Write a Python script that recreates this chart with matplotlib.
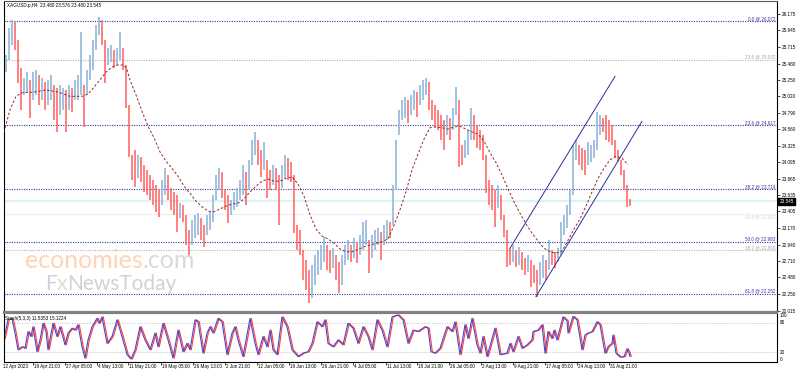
"""
XAGUSD H4 chart (MT4 style) with fibonacci levels, channel and stochastic.
"""

import numpy as np
import matplotlib as mpl
from matplotlib import pyplot as plt
from matplotlib.transforms import ScaledTranslation, blended_transform_factory

mpl.rcParams['font.family'] = ['Liberation Sans', 'DejaVu Sans']

# ---- data (one entry every third H4 bar) ----
highs = [25.60, 25.98, 26.09, 26.06, 25.81, 25.42, 25.28, 25.36, 25.25, 25.36,
         25.39, 25.32, 25.28, 25.22, 25.25, 25.32, 25.18, 25.14, 25.18, 25.14,
         25.11, 25.18, 25.14, 25.25, 25.32, 25.92, 25.18, 25.39, 25.60, 25.81,
         26.02, 26.13, 26.09, 25.81, 25.70, 25.74, 25.67, 25.70, 25.92, 25.70,
         25.46, 24.90, 24.20, 24.27, 24.20, 24.17, 24.06, 23.99, 23.92, 23.85,
         23.78, 23.71, 23.85, 24.01, 23.92, 23.73, 23.68, 23.64, 23.52, 23.50,
         23.36, 23.15, 23.29, 23.36, 23.38, 23.31, 23.21, 23.36, 23.40, 23.64,
         23.92, 24.01, 23.96, 23.71, 23.64, 23.57, 23.68, 23.73, 23.85, 24.06,
         23.96, 24.13, 24.41, 24.52, 24.41, 24.27, 24.38, 24.13, 23.99, 24.06,
         24.01, 23.92, 24.06, 24.20, 24.15, 24.10, 23.92, 23.21, 23.15, 22.86,
         22.72, 22.58, 22.65, 22.80, 22.86, 22.94, 23.05, 22.94, 22.86, 22.89,
         22.80, 22.70, 22.80, 22.94, 23.01, 22.94, 23.03, 22.98, 23.08, 23.26,
         23.29, 23.01, 23.08, 23.15, 23.17, 23.12, 23.21, 23.29, 23.26, 23.78,
         24.41, 24.83, 24.97, 25.01, 24.97, 25.04, 25.11, 25.08, 25.18, 25.25,
         25.28, 25.22, 24.97, 24.90, 24.83, 24.76, 24.69, 24.76, 24.72, 24.86,
         25.15, 24.97, 24.34, 24.41, 24.55, 24.86, 24.76, 24.62, 24.55, 24.48,
         24.20, 23.85, 23.78, 23.71, 23.78, 23.64, 23.36, 23.15, 22.89, 22.94,
         22.86, 22.91, 22.84, 22.75, 22.80, 22.72, 22.65, 22.58, 22.70, 22.80,
         22.72, 23.01, 22.86, 22.84, 22.89, 23.26, 23.36, 23.50, 23.71, 24.34,
         24.41, 24.34, 24.29, 24.27, 24.38, 24.34, 24.41, 24.80, 24.76, 24.72,
         24.76, 24.69, 24.62, 24.41, 24.27, 24.13, 23.99, 23.78, 23.58]

lows = [25.36, 25.53, 25.74, 25.67, 25.21, 24.83, 25.04, 25.08, 24.72, 24.97,
        25.04, 24.90, 24.97, 24.83, 24.90, 24.97, 24.69, 24.52, 24.76, 24.83,
        24.52, 24.83, 24.80, 24.97, 24.97, 25.04, 24.59, 25.04, 25.25, 25.39,
        25.67, 25.88, 25.74, 25.21, 25.46, 25.50, 25.42, 25.46, 25.53, 25.39,
        24.86, 24.17, 23.85, 23.75, 23.87, 23.82, 23.68, 23.64, 23.57, 23.50,
        23.40, 23.33, 23.50, 23.64, 23.57, 23.43, 23.36, 23.12, 23.31, 23.26,
        22.94, 22.80, 22.94, 23.03, 23.08, 23.01, 22.91, 23.08, 23.15, 23.26,
        23.57, 23.71, 23.59, 23.43, 23.24, 23.36, 23.43, 23.47, 23.57, 23.64,
        23.50, 23.71, 24.06, 24.20, 24.06, 23.89, 23.99, 23.59, 23.71, 23.78,
        23.71, 23.21, 23.73, 23.87, 23.85, 23.82, 23.10, 22.86, 22.80, 22.44,
        22.30, 22.12, 22.19, 22.37, 22.51, 22.58, 22.70, 22.58, 22.54, 22.61,
        22.44, 22.26, 22.37, 22.65, 22.72, 22.70, 22.75, 22.68, 22.80, 22.86,
        22.94, 22.54, 22.75, 22.86, 22.94, 22.72, 22.94, 23.01, 23.03, 23.21,
        23.71, 24.48, 24.69, 24.72, 24.65, 24.76, 24.83, 24.73, 24.90, 24.97,
        25.04, 24.83, 24.69, 24.59, 24.55, 24.41, 24.27, 24.48, 24.41, 24.55,
        24.76, 24.03, 24.06, 24.15, 24.20, 24.41, 24.41, 24.29, 24.27, 24.13,
        23.66, 23.50, 23.43, 23.19, 23.45, 23.29, 23.05, 22.63, 22.65, 22.70,
        22.63, 22.65, 22.58, 22.51, 22.56, 22.35, 22.40, 22.21, 22.37, 22.47,
        22.44, 22.58, 22.65, 22.61, 22.70, 22.80, 23.08, 23.17, 23.36, 23.64,
        24.13, 24.06, 23.99, 23.92, 24.06, 24.10, 24.15, 24.27, 24.48, 24.52,
        24.41, 24.38, 24.34, 24.15, 24.10, 23.92, 23.71, 23.47, 23.48]

# moving average (bar number, price)
ma_bar = [0, 6, 12, 18, 30, 42, 54, 66, 78, 84, 90, 96, 102, 108, 114, 120, 123, 126,
          132, 138, 144, 150, 156, 162, 168, 174, 180, 186, 192, 198, 204, 210, 216,
          222, 228, 234, 240, 246, 252, 258, 264, 270, 276, 282, 288, 294, 300, 306,
          312, 318, 324, 330, 336, 342, 348, 354, 360, 366, 372, 378, 384, 390, 396,
          402, 408, 414, 420, 426, 432, 438, 444, 450, 456, 462, 468, 474, 480, 486,
          492, 498, 504, 510, 516, 522, 528, 534, 540, 546, 552, 558, 564, 570, 576,
          582, 588, 594, 600, 606, 612, 618, 624]
ma_val = [24.52, 24.83, 25.02, 25.07, 25.08, 25.11, 25.08, 25.02, 25.02, 25.05,
          25.15, 25.25, 25.36, 25.43, 25.46, 25.46, 25.39, 25.25, 25.04, 24.81,
          24.60, 24.44, 24.24, 24.11, 24.01, 23.90, 23.76, 23.66, 23.55, 23.47,
          23.41, 23.40, 23.44, 23.48, 23.51, 23.52, 23.58, 23.68, 23.76, 23.83,
          23.86, 23.83, 23.83, 23.87, 23.89, 23.79, 23.62, 23.36, 23.16, 23.06,
          23.02, 22.96, 22.88, 22.84, 22.84, 22.87, 22.91, 22.93, 22.96, 22.98,
          23.02, 23.21, 23.43, 23.68, 23.99, 24.21, 24.42, 24.58, 24.59, 24.58,
          24.56, 24.59, 24.60, 24.56, 24.52, 24.49, 24.39, 24.23, 24.09, 23.92,
          23.72, 23.54, 23.38, 23.23, 23.10, 22.99, 22.89, 22.84, 22.82, 22.85,
          23.00, 23.16, 23.30, 23.48, 23.68, 23.87, 24.01, 24.13, 24.18, 24.15,
          24.06]

# stochastic %K turning points (bar number, value)
stoch_bar = [0, 4, 8, 11, 14, 18, 21, 24, 27, 29, 33, 36, 39, 42, 44, 49, 53, 56, 61,
             64, 68, 71, 74, 78, 81, 84, 88, 93, 95, 98, 103, 108, 113, 118, 123, 127,
             131, 136, 141, 146, 151, 154, 159, 164, 169, 174, 179, 183, 186, 191, 194,
             199, 203, 206, 209, 214, 218, 223, 228, 231, 234, 239, 246, 251, 254, 259,
             263, 266, 269, 273, 278, 283, 288, 294, 299, 304, 308, 313, 318, 321, 324,
             329, 334, 339, 344, 349, 354, 359, 364, 368, 373, 378, 383, 388, 394, 399,
             404, 409, 414, 421, 424, 427, 431, 436, 443, 448, 451, 456, 461, 464, 468,
             473, 476, 479, 483, 491, 496, 503, 506, 509, 514, 518, 523, 528, 529, 534,
             538, 541, 544, 548, 550, 553, 559, 563, 564, 569, 573, 578, 581, 584, 588,
             593, 596, 601, 604, 608, 609, 612, 616, 620, 623, 625, 626]
stoch_k = [48, 86, 89, 59, 25, 31, 28, 62, 52, 72, 21, 45, 79, 62, 25, 79, 52, 72, 35,
           59, 69, 65, 76, 31, 8, 45, 72, 89, 79, 92, 38, 52, 86, 52, 15, 6,
           25, 72, 45, 25, 59, 31, 79, 45, 8, 65, 21, 38, 25, 86, 82,
           18, 59, 72, 59, 89, 82, 15, 59, 72, 45, 11, 89, 38, 15, 52,
           31, 65, 25, 15, 92, 72, 25, 11, 18, 21, 38, 82, 72, 86, 38,
           31, 45, 35, 79, 69, 38, 72, 52, 25, 86, 65, 31, 92, 96, 86,
           38, 65, 62, 72, 69, 21, 18, 28, 72, 62, 82, 15, 76, 48, 89,
           35, 18, 52, 11, 69, 15, 18, 38, 21, 52, 28, 35, 45, 62, 65,
           76, 18, 62, 48, 65, 45, 92, 84, 59, 93, 86, 25, 55, 59, 62,
           82, 76, 18, 31, 38, 55, 18, 10, 11, 27, 18, 11.5]

# x axis dates (bar number where each label starts)
date_labels = ['12 Apr 2023', '19 Apr 21:00', '27 Apr 05:00', '4 May 13:00',
               '11 May 21:00', '19 May 05:00', '26 May 13:00', '2 Jun 21:00',
               '12 Jun 05:00', '19 Jun 13:00', '26 Jun 21:00', '4 Jul 05:00',
               '11 Jul 13:00', '18 Jul 21:00', '26 Jul 05:00', '2 Aug 13:00',
               '9 Aug 21:00', '17 Aug 05:00', '24 Aug 13:00', '31 Aug 21:00']
date_pos = [-2.3, 29.3, 61, 92.7, 124.3, 157, 188.7, 221.3, 252.7, 285, 316.7,
            348.7, 381.7, 413.3, 445, 477, 508.7, 541, 573.3, 605.3]

price_ticks = [26.175, 25.945, 25.715, 25.480, 25.250, 25.020, 24.790, 24.560,
               24.325, 24.095, 23.865, 23.635, 23.405, 23.170, 22.940, 22.710,
               22.480, 22.250, 22.015]

# fibonacci levels
fib_main = [(0.0, 26.072), (23.6, 24.617), (38.2, 23.714), (50.0, 22.983), (61.8, 22.252)]
fib_grey = [(23.6, 25.532), (38.2, 22.866)]
fib_faint = [(61.8, 23.367)]

# channel lines (bar number, price)
channel_upper = ([506, 611], [22.89, 25.30])
channel_lower = ([532, 638], [22.21, 24.67])

last_price = 23.545
title = 'XAGUSD.p,H4  23.480 23.576 23.480 23.545'
stoch_title = 'Stoch(5,3,3) 11.5353 15.1224'

BLUE_BAR = '#8db4da'
RED_BAR = '#ff6464'
FS = 3.3

fig = plt.figure(figsize=(7.98, 3.72), dpi=100)
ax = fig.add_axes([4 / 798, 60 / 372, 773 / 798, 311 / 372])
ax2 = fig.add_axes([4 / 798, 10 / 372, 773 / 798, 49 / 372])

# ---- price panel ----
ax.axhline(last_price, color='#ddf2f2', lw=1.6, zorder=0)

dotted = (0, (1.0, 1.2))
for lvl, price in fib_main:
    ax.axhline(price, color='#3535a5', lw=0.8, ls=dotted, zorder=1)
    ax.text(0.998, price, f'{lvl:.1f} @ {price:.3f}', transform=ax.get_yaxis_transform(),
            ha='right', va='bottom', fontsize=FS, color='#3535a5')
for lvl, price in fib_grey:
    ax.axhline(price, color='#b4b4b4', lw=0.8, ls=dotted, zorder=1)
    ax.text(0.998, price, f'{lvl:.1f} @ {price:.3f}', transform=ax.get_yaxis_transform(),
            ha='right', va='bottom', fontsize=FS, color='#a8a8a8')
for lvl, price in fib_faint:
    ax.axhline(price, color='#dcdcf0', lw=0.8, ls=dotted, zorder=1)
    ax.text(0.998, price, f'{lvl:.1f} @ {price:.3f}', transform=ax.get_yaxis_transform(),
            ha='right', va='top', fontsize=FS, color='#d4d4ec')

h = np.array(highs)
l = np.array(lows)
mid = (h + l) / 2
colors = [BLUE_BAR] + [BLUE_BAR if mid[i] >= mid[i - 1] else RED_BAR for i in range(1, len(mid))]
bar_x = np.arange(len(h)) * 3 + 1.5
ax.vlines(bar_x, l, h, colors=colors, lw=1.15, zorder=2)

ax.plot(ma_bar, ma_val, color='#8e2a2a', lw=0.7, ls=(0, (2.5, 2)), zorder=3)

ax.plot(*channel_upper, color='#2d2d9c', lw=0.7, zorder=3)
ax.plot(*channel_lower, color='#2d2d9c', lw=0.7, zorder=3)

ax.set_xlim(0, 773)
ax.set_ylim(21.995, 26.357)
ax.set_xticks([])
ax.yaxis.tick_right()
ax.set_yticks(price_ticks)
ax.set_yticklabels([f'{p:.3f}' for p in price_ticks])
ax.tick_params(axis='y', length=2, width=0.5, pad=1.5, labelsize=FS, direction='out')
for side in ['left', 'right']:
    ax.spines[side].set_color('black')
    ax.spines[side].set_linewidth(0.8)
ax.spines['top'].set_color('#555555')
ax.spines['top'].set_linewidth(0.8)
ax.spines['bottom'].set_color('#808080')
ax.spines['bottom'].set_linewidth(1.6)

ax.text(0.004, 0.995, title, transform=ax.transAxes, ha='left', va='top', fontsize=FS)
ax.text(1.003, last_price, f'{last_price:.3f}', transform=ax.get_yaxis_transform(),
        ha='left', va='center', fontsize=FS, color='white', clip_on=False,
        bbox=dict(facecolor='black', edgecolor='black', pad=0.8))

# watermark
t1 = fig.text(25 / 798, 1 - 268 / 372, 'economies', fontsize=18, color='#fdd4b6',
              family='Lato', va='baseline')
ax.annotate('.com', xy=(1, 0), xycoords=t1, fontsize=18, color='#dadada',
            family='Lato', va='bottom', ha='left', annotation_clip=False)
t2 = fig.text(45 / 798, 1 - 290 / 372, 'F', fontsize=15, color='#d2d2d2',
              family='Lato', va='baseline')
t3 = ax.annotate('x', xy=(1, 0), xycoords=t2, fontsize=15, color='#cfe4c8',
                 family='Lato', va='bottom', ha='left', annotation_clip=False)
ax.annotate('NewsToday', xy=(1, 0), xycoords=t3, fontsize=15, color='#d2d2d2',
            family='Lato', va='bottom', ha='left', annotation_clip=False)

# ---- stochastic panel ----
ax2.axhline(80, color='#c4c4c4', lw=0.6, ls=(0, (1.5, 1.5)))
ax2.axhline(20, color='#c4c4c4', lw=0.6, ls=(0, (1.5, 1.5)))
shift = ax2.transData + ScaledTranslation(1.3 / 100, 0, fig.dpi_scale_trans)
ax2.plot(stoch_bar, stoch_k, color='#ff3b3b', lw=0.8, transform=shift)
ax2.plot(stoch_bar, stoch_k, color='#4848cc', lw=0.8)
ax2.set_xlim(0, 773)
ax2.set_ylim(0, 100)
ax2.set_yticks([])
ax2.set_xticks([p for p in date_pos if p >= 0])
ax2.set_xticklabels([])
ax2.tick_params(axis='x', length=2, width=0.5, direction='out')
for side in ['left', 'right', 'bottom']:
    ax2.spines[side].set_color('black')
    ax2.spines[side].set_linewidth(0.8)
ax2.spines['top'].set_color('#808080')
ax2.spines['top'].set_linewidth(1.6)

ax2.text(0.001, 0.93, stoch_title, transform=ax2.transAxes, ha='left', va='top', fontsize=FS)
for val, va in [(100, 'top'), (80, 'center'), (20, 'center'), (0, 'bottom')]:
    ax2.text(1.004, val, str(val), transform=ax2.get_yaxis_transform(), ha='left', va=va,
             fontsize=FS, clip_on=False)

xt = blended_transform_factory(ax2.transData, ax2.transAxes)
for pos, lab in zip(date_pos, date_labels):
    ax2.text(pos + 1, -0.05, lab, transform=xt, ha='left', va='top', fontsize=FS,
             clip_on=False)

fig.savefig('out.png', dpi=100, facecolor='white')
